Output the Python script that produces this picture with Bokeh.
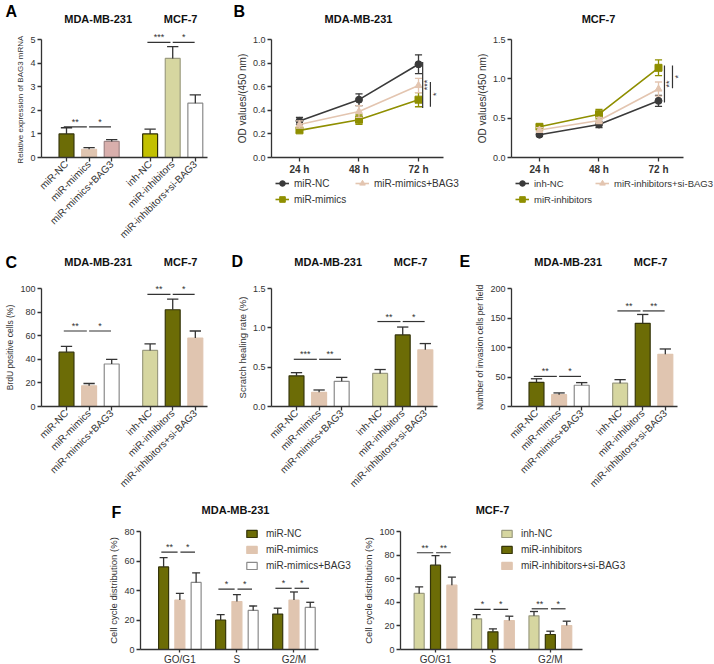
import math
from bokeh.plotting import figure
from bokeh.layouts import column, row
from bokeh.models import Range1d, FixedTicker, Label, Legend, LegendItem, PrintfTickFormatter
from bokeh.core.properties import value
from bokeh.embed import file_html
from bokeh.resources import INLINE

# ---------------- data ----------------
mda_groups = ["miR-NC", "miR-mimics", "miR-mimics+BAG3"]
mcf_groups = ["inh-NC", "miR-inhibitors", "miR-inhibitors+si-BAG3"]
bar_categories = mda_groups + mcf_groups

# A: relative BAG3 mRNA
a_values = [1.0, 0.35, 0.68, 1.0, 4.2, 2.3]
a_errors = [0.26, 0.07, 0.08, 0.2, 0.5, 0.35]
a_sig_y = [1.3, 4.88]
a_sig = [["**", "*"], ["***", "*"]]
a_yticks = [0, 1, 2, 3, 4, 5]

# C: BrdU positive cells
c_values = [46, 17.5, 36, 47.5, 82, 58]
c_errors = [5, 2, 4, 5.5, 9, 6]
c_sig_y = [64, 95]
c_sig = [["**", "*"], ["**", "*"]]
c_yticks = [0, 20, 40, 60, 80, 100]

# D: scratch healing rate
d_values = [0.39, 0.18, 0.32, 0.42, 0.91, 0.72]
d_errors = [0.04, 0.03, 0.05, 0.05, 0.10, 0.08]
d_sig_y = [0.60, 1.08]
d_sig = [["***", "**"], ["**", "*"]]
d_yticks = [0.0, 0.5, 1.0, 1.5]

# E: invasion cells
e_values = [41, 20, 36, 39.5, 141, 88.5]
e_errors = [6, 3, 4.5, 6, 15, 9]
e_sig_y = [51, 162]
e_sig = [["**", "*"], ["**", "**"]]
e_yticks = [0, 50, 100, 150, 200]

# B: OD values over time
time_points = ["24 h", "48 h", "72 h"]
b1_mir_nc = [0.31, 0.49, 0.79]
b1_mir_nc_err = [0.03, 0.05, 0.08]
b1_mimics = [0.23, 0.32, 0.49]
b1_mimics_err = [0.02, 0.04, 0.06]
b1_mimics_bag3 = [0.28, 0.39, 0.61]
b1_mimics_bag3_err = [0.03, 0.05, 0.06]
b1_yticks = [0.0, 0.2, 0.4, 0.6, 0.8, 1.0]
b1_sig_low = [0.42, 0.43]
b1_sig_high = [0.81, 0.64]
b1_sig_text = ["***", "*"]

b2_inh_nc = [0.29, 0.42, 0.72]
b2_inh_nc_err = [0.02, 0.04, 0.07]
b2_inhibitors = [0.39, 0.55, 1.14]
b2_inhibitors_err = [0.03, 0.06, 0.10]
b2_inhibitors_si = [0.35, 0.47, 0.87]
b2_inhibitors_si_err = [0.03, 0.04, 0.09]
b2_yticks = [0.0, 0.5, 1.0, 1.5]
b2_sig_low = [0.70, 0.88]
b2_sig_high = [1.17, 1.17]
b2_sig_text = ["**", "*"]

# F: cell cycle distribution
phases = ["GO/G1", "S", "G2/M"]
f1_mir_nc = [56, 20, 24]
f1_mir_nc_err = [6.3, 3.7, 4.0]
f1_mimics = [33.5, 32.5, 33.5]
f1_mimics_err = [4.5, 4.7, 5.5]
f1_mimics_bag3 = [45.5, 26.5, 28.5]
f1_mimics_bag3_err = [6.5, 3.0, 3.5]
f1_sig_y = [66, 41, 41.5]
f1_sig = [["**", "*"], ["*", "*"], ["*", "*"]]
f1_yticks = [0, 20, 40, 60, 80]

f2_inh_nc = [47.5, 26, 28.5]
f2_inh_nc_err = [5.5, 3.5, 3.7]
f2_inhibitors = [71.5, 15, 12.7]
f2_inhibitors_err = [8.0, 2.5, 2.8]
f2_inhibitors_si = [54.5, 24.5, 20.3]
f2_inhibitors_si_err = [6.8, 3.7, 3.7]
f2_sig_y = [82, 34, 34.5]
f2_sig = [["**", "**"], ["*", "*"], ["**", "*"]]
f2_yticks = [0, 20, 40, 60, 80, 100]

# ---------------- style ----------------
FONT = "Liberation Sans"
AX = "#333333"
TXT = "#333333"
TITLE = "#111111"
OLIVE = "#6c6c06"
OLIVE_EDGE = "#35350a"
TAN = "#e0c5b0"
KHAKI = "#d6d6a0"
KHAKI_EDGE = "#9c9c80"
WHITE_EDGE = "#8a8a8a"
ROSE = "#d9afac"
ROSE_EDGE = "#a08585"
YELLOW = "#c2c000"
LINE_DARK = "#3a3a3a"
LINE_OLIVE = "#8f8f00"
LINE_TAN = "#e3c5b0"

BAR_X = [0, 1, 2, 3.7, 4.7, 5.7]
BAR_UNIT = 22.6  # px per category


def style_axis(ax, size="9px", bold=False, label_size="9px"):
    ax.axis_line_color = AX
    ax.axis_line_width = 1.3
    ax.major_tick_line_color = AX
    ax.major_tick_line_width = 1.3
    ax.major_tick_in = 0
    ax.major_tick_out = 4
    ax.minor_tick_line_color = None
    ax.major_label_text_font = FONT
    ax.major_label_text_font_size = size
    ax.major_label_text_color = TXT
    ax.major_label_text_font_style = "bold" if bold else "normal"
    ax.major_label_standoff = 2
    ax.axis_label_text_font = FONT
    ax.axis_label_text_font_size = label_size
    ax.axis_label_text_font_style = "normal"
    ax.axis_label_text_color = TXT
    ax.axis_label_standoff = 2


def make_fig(canvas, box, xr, yr):
    """canvas and box in page pixels; box is where the axes (xr, yr) are drawn."""
    cx0, cy0, cx1, cy1 = canvas
    fx0, fy0, fx1, fy1 = box
    kx = (xr[1] - xr[0]) / (fx1 - fx0)
    ky = (yr[1] - yr[0]) / (fy1 - fy0)
    xs = xr[0] - (fx0 - cx0) * kx
    xe = xr[1] + (cx1 - fx1) * kx
    ys = yr[0] - (cy1 - fy1) * ky
    ye = yr[1] + (fy0 - cy0) * ky
    p = figure(width=cx1 - cx0, height=cy1 - cy0,
               x_range=Range1d(xs, xe), y_range=Range1d(ys, ye),
               min_border_left=0, min_border_right=0, min_border_top=0, min_border_bottom=0,
               output_backend="svg", toolbar_location=None, title=None)
    p.outline_line_color = None
    p.xgrid.grid_line_color = None
    p.ygrid.grid_line_color = None
    p.background_fill_color = "white"
    p.border_fill_color = "white"
    p.xaxis.fixed_location = yr[0]
    p.xaxis.bounds = xr
    p.yaxis.fixed_location = xr[0]
    p.yaxis.bounds = yr

    def to_data(xp, yp):
        return xs + (xp - cx0) * kx, ye - (yp - cy0) * ky
    return p, to_data


def add_text(p, to_data, xp, yp, txt, size, bold=True, align="center", color=TITLE):
    xd, yd = to_data(xp, yp)
    p.add_layout(Label(x=xd, y=yd, text=txt, text_align=align, text_baseline="middle",
                       text_font=FONT, text_font_size=size,
                       text_font_style="bold" if bold else "normal", text_color=color))


def star_text(p, xs, ys, texts, angle=0.0, baseline="bottom"):
    p.text(x=xs, y=ys, text=texts, angle=angle, text_align="center", text_baseline=baseline,
           text_font=value(FONT), text_font_size="9px", text_color=AX)


def bar_panel(canvas, box, ymax, yticks, values, errors, fills, edges,
              sig_y, sig, ylabel, ylabel_size, titles_y, fmt=None):
    x0 = -25 / BAR_UNIT
    x1 = x0 + (box[2] - box[0]) / BAR_UNIT
    p, to_data = make_fig(canvas, box, (x0, x1), (0, ymax))
    p.vbar(x=BAR_X, top=values, width=0.66, fill_color=fills, line_color=edges, line_width=1.2)
    tops = [v + e for v, e in zip(values, errors)]
    p.segment(x0=BAR_X, y0=values, x1=BAR_X, y1=tops, line_color=AX, line_width=1.3)
    p.segment(x0=[x - 0.25 for x in BAR_X], y0=tops, x1=[x + 0.25 for x in BAR_X], y1=tops,
              line_color=AX, line_width=1.3)
    for g in range(2):
        a, b, c = BAR_X[3 * g:3 * g + 3]
        y = sig_y[g]
        sx0 = [a - 0.12, b + 0.0]
        sx1 = [b - 0.1, c - 0.03]
        p.segment(x0=sx0, y0=[y, y], x1=sx1, y1=[y, y], line_color=AX, line_width=1.2)
        star_text(p, [(u + v) / 2 for u, v in zip(sx0, sx1)], [y, y], sig[g])
    p.xaxis.ticker = FixedTicker(ticks=BAR_X)
    p.xaxis.major_label_overrides = {x: lab for x, lab in zip(BAR_X, bar_categories)}
    p.yaxis.ticker = FixedTicker(ticks=yticks)
    if fmt:
        p.yaxis.formatter = PrintfTickFormatter(format=fmt)
    p.yaxis.axis_label = ylabel
    style_axis(p.xaxis[0], size="10px")
    style_axis(p.yaxis[0], size="9px", label_size=ylabel_size)
    p.xaxis.major_label_orientation = math.pi / 4
    p.xaxis.major_label_standoff = 1
    add_text(p, to_data, box[0] + 25 + 1.4 * BAR_UNIT, titles_y, "MDA-MB-231", "11px")
    add_text(p, to_data, box[0] + 25 + 5.05 * BAR_UNIT, titles_y, "MCF-7", "11px")
    return p, to_data


def line_panel(canvas, box, ymax, yticks, series, sig_low, sig_high, sig_text, sig_dx, title,
               legend_size="10px"):
    p, to_data = make_fig(canvas, box, (-0.47, 2.42), (0, ymax))
    xs = [0, 1, 2]
    items = []
    for name, vals, errs, color, marker in series:
        lo = [v - e for v, e in zip(vals, errs)]
        hi = [v + e for v, e in zip(vals, errs)]
        p.segment(x0=xs, y0=lo, x1=xs, y1=hi, line_color=color, line_width=1.3)
        p.segment(x0=[x - 0.06 for x in xs], y0=hi, x1=[x + 0.06 for x in xs], y1=hi,
                  line_color=color, line_width=1.3)
        p.segment(x0=[x - 0.06 for x in xs], y0=lo, x1=[x + 0.06 for x in xs], y1=lo,
                  line_color=color, line_width=1.3)
        lr = p.line(xs, vals, line_color=color, line_width=1.6)
        sr = p.scatter(xs, vals, marker=marker, size=7, fill_color=color, line_color=color)
        items.append(LegendItem(label=name, renderers=[lr, sr]))
    line_dx, text_dx = sig_dx
    p.segment(x0=[2 + d for d in line_dx], y0=sig_low, x1=[2 + d for d in line_dx], y1=sig_high,
              line_color=AX, line_width=1.2)
    star_text(p, [2 + d for d in text_dx], [(l + h) / 2 for l, h in zip(sig_low, sig_high)],
              sig_text, angle=math.pi / 2, baseline="middle")
    p.xaxis.ticker = FixedTicker(ticks=xs)
    p.xaxis.major_label_overrides = {x: t for x, t in zip(xs, time_points)}
    p.yaxis.ticker = FixedTicker(ticks=yticks)
    p.yaxis.formatter = PrintfTickFormatter(format="%.1f")
    p.yaxis.axis_label = "OD values/(450 nm)"
    style_axis(p.xaxis[0], size="10px", bold=True)
    style_axis(p.yaxis[0], size="9px", label_size="10px")
    common = dict(orientation="vertical", margin=0, padding=0, spacing=2,
                  glyph_width=14, glyph_height=14, label_height=14, label_standoff=5,
                  label_text_font=FONT, label_text_font_size=legend_size, label_text_color=TXT,
                  background_fill_alpha=0, border_line_color=None)
    cx0, cy0, cx1, cy1 = canvas
    # column 1: first and second series, column 2: third series
    leg1 = Legend(items=[items[0], items[1]], location=(box[0] + 4 - cx0, cy1 - 206), **common)
    leg2 = Legend(items=[items[2]], location=(box[0] + 84 - cx0, cy1 - 190), **common)
    p.add_layout(leg1)
    p.add_layout(leg2)
    add_text(p, to_data, (box[0] + box[2]) / 2 + 1, 18, title, "11px")
    return p, to_data


def f_panel(canvas, box, xr, ymax, yticks, series, sig_y, sig, legend_x, title, title_x):
    p, to_data = make_fig(canvas, box, xr, (0, ymax))
    xs = [0, 1, 2]
    offs = [-0.285, 0, 0.285]
    items = []
    for (name, vals, errs, fill, edge), off in zip(series, offs):
        bx = [x + off for x in xs]
        r = p.vbar(x=bx, top=vals, width=0.175, fill_color=fill, line_color=edge, line_width=1.2)
        tops = [v + e for v, e in zip(vals, errs)]
        p.segment(x0=bx, y0=vals, x1=bx, y1=tops, line_color=AX, line_width=1.3)
        p.segment(x0=[x - 0.07 for x in bx], y0=tops, x1=[x + 0.07 for x in bx], y1=tops,
                  line_color=AX, line_width=1.3)
        items.append(LegendItem(label=name, renderers=[r]))
    for g in range(3):
        a, b, c = [g + o for o in offs]
        y = sig_y[g]
        sx0 = [a - 0.04, b + 0.01]
        sx1 = [b - 0.04, c - 0.02]
        p.segment(x0=sx0, y0=[y, y], x1=sx1, y1=[y, y], line_color=AX, line_width=1.2)
        star_text(p, [(u + v) / 2 for u, v in zip(sx0, sx1)], [y, y], sig[g])
    p.xaxis.ticker = FixedTicker(ticks=xs)
    p.xaxis.major_label_overrides = {x: t for x, t in zip(xs, phases)}
    p.yaxis.ticker = FixedTicker(ticks=yticks)
    p.yaxis.axis_label = "Cell cycle distribution (%)"
    style_axis(p.xaxis[0], size="10px")
    style_axis(p.yaxis[0], size="9px", label_size="9.5px")
    p.xaxis.major_tick_out = 3
    p.xaxis.major_label_standoff = 1
    cx0, cy0, cx1, cy1 = canvas
    legend = Legend(items=items, location=(legend_x - cx0, cy1 - (box[1] - 4 + 44)),
                    orientation="vertical", margin=0, padding=0, spacing=4,
                    glyph_width=13, glyph_height=9, label_height=12, label_standoff=8,
                    label_text_font=FONT, label_text_font_size="10px", label_text_color=TXT,
                    background_fill_alpha=0, border_line_color=None)
    p.add_layout(legend)
    add_text(p, to_data, title_x, box[1] - 22, title, "11px")
    return p, to_data


# ---------------- panels ----------------
a_fills = [OLIVE, TAN, ROSE, YELLOW, KHAKI, "white"]
a_edges = [OLIVE_EDGE, TAN, ROSE_EDGE, "#2e2e00", KHAKI_EDGE, WHITE_EDGE]
cde_fills = [OLIVE, TAN, "white", KHAKI, OLIVE, TAN]
cde_edges = [OLIVE_EDGE, TAN, WHITE_EDGE, KHAKI_EDGE, OLIVE_EDGE, TAN]

ROW1 = (0, 246)
ROW2 = (246, 490)
ROW3 = (490, 664)

pA, tA = bar_panel((0, ROW1[0], 230, ROW1[1]), (41, 39, 207, 157), 5, a_yticks, a_values, a_errors,
                   a_fills, a_edges, a_sig_y, a_sig, "Relative expression of  BAG3 mRNA", "8px", 18)
add_text(pA, tA, 5, 11, "A", "16px", align="left", color="#000000")

pB1, tB1 = line_panel((230, ROW1[0], 470, ROW1[1]), (271, 39, 443, 157), 1.0, b1_yticks,
                      [("miR-NC", b1_mir_nc, b1_mir_nc_err, LINE_DARK, "circle"),
                       ("miR-mimics", b1_mimics, b1_mimics_err, LINE_OLIVE, "square"),
                       ("miR-mimics+BAG3", b1_mimics_bag3, b1_mimics_bag3_err, LINE_TAN, "triangle")],
                      b1_sig_low, b1_sig_high, b1_sig_text, ([0.07, 0.2], [0.14, 0.3]), "MDA-MB-231")
add_text(pB1, tB1, 233, 11, "B", "16px", align="left", color="#000000")

pB2, tB2 = line_panel((470, ROW1[0], 714, ROW1[1]), (511, 39, 683, 157), 1.5, b2_yticks,
                      [("inh-NC", b2_inh_nc, b2_inh_nc_err, LINE_DARK, "circle"),
                       ("miR-inhibitors", b2_inhibitors, b2_inhibitors_err, LINE_OLIVE, "square"),
                       ("miR-inhibitors+si-BAG3", b2_inhibitors_si, b2_inhibitors_si_err, LINE_TAN, "triangle")],
                      b2_sig_low, b2_sig_high, b2_sig_text, ([0.1, 0.235], [0.17, 0.335]), "MCF-7",
                      legend_size="9.5px")

pC, tC = bar_panel((0, ROW2[0], 230, ROW2[1]), (41, 288, 207, 406), 100, c_yticks, c_values, c_errors,
                   cde_fills, cde_edges, c_sig_y, c_sig, "BrdU positive cells (%)", "8.5px", 261)
add_text(pC, tC, 5, 262, "C", "16px", align="left", color="#000000")

pD, tD = bar_panel((230, ROW2[0], 470, ROW2[1]), (271, 288, 437, 406), 1.5, d_yticks, d_values, d_errors,
                   cde_fills, cde_edges, d_sig_y, d_sig, "Scratch healing rate (%)", "9.5px", 261, "%.1f")
add_text(pD, tD, 231, 261, "D", "16px", align="left", color="#000000")
add_text(pD, tD, 459, 261, "E", "16px", align="left", color="#000000")

pE, tE = bar_panel((470, ROW2[0], 714, ROW2[1]), (511, 288, 677, 406), 200, e_yticks, e_values, e_errors,
                   cde_fills, cde_edges, e_sig_y, e_sig, "Number of invasion cells per field", "8.5px", 261)

pF1, tF1 = f_panel((0, ROW3[0], 364, ROW3[1]), (140, 531, 318, 649), (-0.69, 2.43), 80, f1_yticks,
                   [("miR-NC", f1_mir_nc, f1_mir_nc_err, OLIVE, OLIVE_EDGE),
                    ("miR-mimics", f1_mimics, f1_mimics_err, TAN, TAN),
                    ("miR-mimics+BAG3", f1_mimics_bag3, f1_mimics_bag3_err, "white", WHITE_EDGE)],
                   f1_sig_y, f1_sig, 245, "MDA-MB-231", 235)
add_text(pF1, tF1, 111, 512, "F", "16px", align="left", color="#000000")

pF2, tF2 = f_panel((364, ROW3[0], 714, ROW3[1]), (400, 531, 582, 649), (-0.61, 2.56), 100, f2_yticks,
                   [("inh-NC", f2_inh_nc, f2_inh_nc_err, KHAKI, KHAKI_EDGE),
                    ("miR-inhibitors", f2_inhibitors, f2_inhibitors_err, OLIVE, OLIVE_EDGE),
                    ("miR-inhibitors+si-BAG3", f2_inhibitors_si, f2_inhibitors_si_err, TAN, TAN)],
                   f2_sig_y, f2_sig, 500, "MCF-7", 492)

layout = column(row(pA, pB1, pB2), row(pC, pD, pE), row(pF1, pF2))

open("out.html", "w").write(file_html(layout, INLINE))
